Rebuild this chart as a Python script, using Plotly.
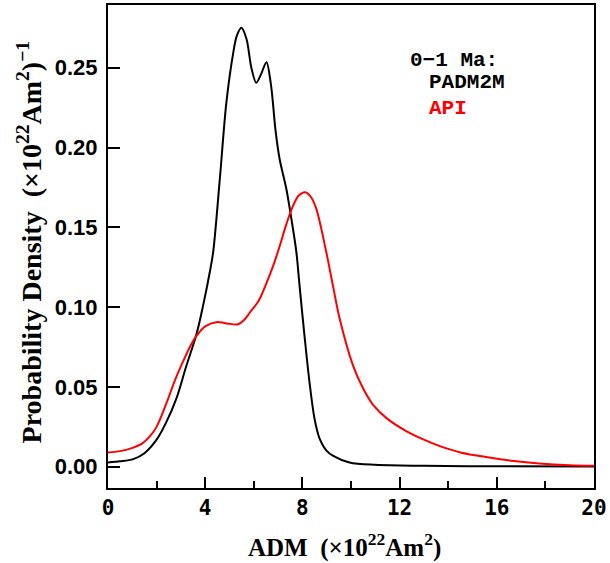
import plotly.graph_objects as go

# PADM2M (black) density curve
padm_x = [0.0, 0.5, 1.04, 1.5, 2.0, 2.4, 2.82, 3.2, 3.64, 3.9, 4.19, 4.33, 4.6, 4.87, 5.15, 5.3,
          5.49, 5.7, 5.9, 6.1, 6.3, 6.52, 6.7, 6.9, 7.06, 7.34, 7.55, 7.75, 7.88, 8.1, 8.3, 8.5,
          8.7, 9.0, 9.25, 9.94, 11.0, 13.0, 16.0, 20.0]
padm_y = [0.0027, 0.0034, 0.0048, 0.0085, 0.017, 0.028, 0.043, 0.062, 0.083, 0.1, 0.122, 0.1347,
          0.18, 0.228, 0.259, 0.27, 0.275, 0.268, 0.25, 0.2406, 0.246, 0.2535, 0.24, 0.21, 0.193,
          0.174, 0.155, 0.1347, 0.114, 0.08, 0.052, 0.03, 0.018, 0.01, 0.007, 0.0027, 0.0012,
          0.0006, 0.0003, 0.0002]

# API (red) density curve
api_x = [0.0, 0.5, 1.04, 1.4, 1.72, 2.0, 2.41, 2.75, 3.09, 3.4, 3.64, 4.0, 4.46, 4.9, 5.35, 5.6,
         5.83, 6.2, 6.52, 6.8, 7.06, 7.34, 7.6, 7.85, 8.12, 8.35, 8.57, 8.98, 9.25, 9.53, 10.07,
         10.5, 10.9, 11.5, 12.27, 13.0, 13.63, 14.5, 15.69, 16.7, 17.74, 19.0, 20.0]
api_y = [0.0089, 0.0098, 0.012, 0.0145, 0.019, 0.025, 0.04, 0.054, 0.066, 0.076, 0.082, 0.088,
         0.0906, 0.0898, 0.0893, 0.092, 0.0965, 0.104, 0.115, 0.126, 0.138, 0.152, 0.163, 0.17,
         0.172, 0.169, 0.1617, 0.1347, 0.114, 0.093, 0.064, 0.049, 0.039, 0.030, 0.0224, 0.017,
         0.0131, 0.009, 0.0058, 0.0036, 0.0021, 0.001, 0.0006]

x_ticks = [0, 4, 8, 12, 16, 20]
y_ticks = [0.00, 0.05, 0.10, 0.15, 0.20, 0.25]
y_tick_labels = ["0.00", "0.05", "0.10", "0.15", "0.20", "0.25"]

fig = go.Figure()
fig.add_trace(go.Scatter(x=padm_x, y=padm_y, mode="lines",
                         line=dict(color="black", width=2, shape="spline", smoothing=0.9)))
fig.add_trace(go.Scatter(x=api_x, y=api_y, mode="lines",
                         line=dict(color="#ff0000", width=2, shape="spline", smoothing=0.9)))

fig.update_layout(
    width=610, height=563,
    margin=dict(l=108, r=15, t=3, b=75),
    paper_bgcolor="white", plot_bgcolor="white",
    showlegend=False,
    xaxis=dict(range=[0, 20], tickvals=x_ticks, ticktext=[str(v) for v in x_ticks],
               ticks="inside", ticklen=11, tickwidth=2, tickcolor="black",
               minor=dict(dtick=2, tick0=0, ticks="inside", ticklen=7, tickwidth=1.5, tickcolor="black", showgrid=False),
               showline=True, linecolor="black", linewidth=2, mirror=True,
               showgrid=False, zeroline=False,
               tickfont=dict(family="DejaVu Sans Mono", size=21, color="black", weight="bold")),
    yaxis=dict(range=[-0.0133, 0.2893], tickvals=y_ticks, ticktext=y_tick_labels,
               ticks="inside", ticklen=12, tickwidth=2, tickcolor="black",
               showline=True, linecolor="black", linewidth=2, mirror=True,
               showgrid=False, zeroline=False, ticklabelstandoff=4,
               tickfont=dict(family="Liberation Sans", size=22, color="black", weight="bold")),
)

fig.add_annotation(text="ADM\u00a0\u00a0(×10<sup>22</sup>Am<sup>2</sup>)", xref="paper", yref="paper",
                   x=0.487, y=-0.12, xanchor="center", yanchor="middle", showarrow=False,
                   font=dict(family="Liberation Serif", size=25, color="black", weight="bold"))
fig.add_annotation(text="Probability\u00a0Density\u00a0\u00a0(×10<sup>22</sup>Am<sup>2</sup>)<sup>−1</sup>",
                   xref="paper", yref="paper", x=-0.162, y=0.509, xanchor="center", yanchor="middle",
                   textangle=-90, showarrow=False,
                   font=dict(family="Liberation Serif", size=28, color="black", weight="bold"))

leg_font = dict(family="Liberation Mono", size=21, color="black", weight="bold")
fig.add_annotation(text="0−1 Ma:", xref="paper", yref="paper", x=0.618, y=0.885,
                   xanchor="left", yanchor="middle", showarrow=False, font=leg_font)
fig.add_annotation(text="PADM2M", xref="paper", yref="paper", x=0.657, y=0.839,
                   xanchor="left", yanchor="middle", showarrow=False, font=leg_font)
fig.add_annotation(text="API", xref="paper", yref="paper", x=0.657, y=0.786,
                   xanchor="left", yanchor="middle", showarrow=False,
                   font=dict(family="Liberation Mono", size=21, color="#ff0000", weight="bold"))

fig.write_html("out.html")
